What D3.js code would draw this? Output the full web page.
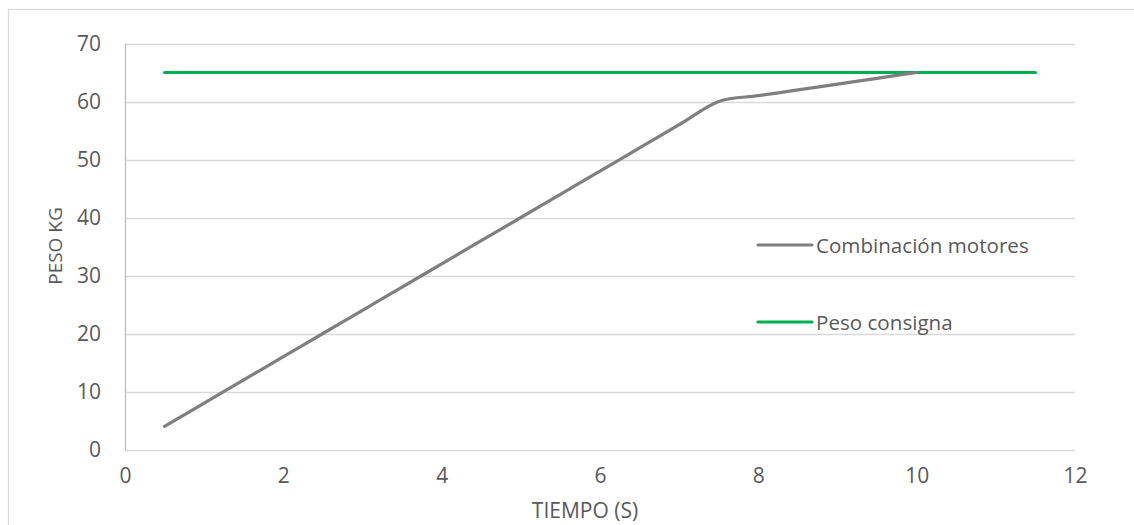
<!DOCTYPE html>
<html><head><meta charset="utf-8">
<script src="https://cdn.jsdelivr.net/npm/d3@7"></script>
<style>body{margin:0;background:#fff;} svg{display:block;font-family:"Open Sans",sans-serif;}</style>
</head><body>
<script>
const timeValues = [0.5,1,1.5,2,2.5,3,3.5,4,4.5,5,5.5,6,6.5,7,7.5,8,8.5,9,9.5,10];
const motorValues = [4,8,12,16,20,24,28,32,36,40,44,48,52,56,60,61,62,63,64,65];
const setpointTimes = [0.5,11.5];
const setpointValues = [65,65];
const xTicks = [0,2,4,6,8,10,12];
const yTicks = [0,10,20,30,40,50,60,70];
const seriesNames = ["Combinación motores","Peso consigna"];
const seriesColors = ["#7f7f7f","#00b050"];

(function(){
const W=1134,H=525;
const svg=d3.select("body").append("svg").attr("width",W).attr("height",H);
svg.append("rect").attr("x",8.5).attr("y",9.5).attr("width",1140).attr("height",540)
  .attr("fill","#fff").attr("stroke","#d9d9d9").attr("stroke-width",1.3);

const pl=125,pr=1075,pt=43.5,pb=449.5;
const x=d3.scaleLinear().domain([0,12]).range([pl,pr]);
const y=d3.scaleLinear().domain([0,70]).range([pb,pt]);

svg.append("g").selectAll("line").data(yTicks).join("line")
  .attr("x1",pl).attr("x2",pr).attr("y1",d=>Math.round(y(d))+0.5).attr("y2",d=>Math.round(y(d))+0.5)
  .attr("stroke","#d9d9d9").attr("stroke-width",1.3);
svg.append("line").attr("x1",pl+0.5).attr("x2",pl+0.5).attr("y1",pt).attr("y2",pb+1)
  .attr("stroke","#bfbfbf").attr("stroke-width",1.3);

const yAxis=d3.axisLeft(y).tickValues(yTicks).tickSize(0).tickPadding(24);
const gy=svg.append("g").attr("transform",`translate(${pl},0)`).call(yAxis);
gy.select(".domain").remove();
gy.selectAll("text").attr("fill","#595959").style("font-size","21px").style("font-family","Open Sans");

const xAxis=d3.axisBottom(x).tickValues(xTicks).tickSize(0).tickPadding(19);
const gx=svg.append("g").attr("transform",`translate(0,${pb})`).call(xAxis);
gx.select(".domain").remove();
gx.selectAll("text").attr("fill","#595959").style("font-size","21px").style("font-family","Open Sans");

svg.append("text").attr("x",585).attr("y",518).attr("text-anchor","middle")
  .attr("fill","#595959").style("font-size","21px").text("TIEMPO (S)");
svg.append("text").attr("transform",`translate(62,246) rotate(-90)`).attr("text-anchor","middle")
  .attr("fill","#595959").style("font-size","19px").text("PESO KG");

const line=d3.line().x(d=>x(d[0])).y(d=>y(d[1])).curve(d3.curveCatmullRom.alpha(0));
svg.append("path").datum(setpointTimes.map((t,i)=>[t,setpointValues[i]]))
  .attr("d",line).attr("fill","none").attr("stroke",seriesColors[1]).attr("stroke-width",3.2).attr("stroke-linecap","round");
svg.append("path").datum(timeValues.map((t,i)=>[t,motorValues[i]]))
  .attr("d",line).attr("fill","none").attr("stroke",seriesColors[0]).attr("stroke-width",3.2).attr("stroke-linecap","round");

const legY=[245,322];
seriesNames.forEach((n,i)=>{
  svg.append("line").attr("x1",758).attr("x2",812).attr("y1",legY[i]).attr("y2",legY[i])
    .attr("stroke",seriesColors[i]).attr("stroke-width",3.2).attr("stroke-linecap","round");
  svg.append("text").attr("x",816).attr("y",legY[i]+8).attr("fill","#595959")
    .style("font-size","20.6px").text(n);
});
})();
</script>
</body></html>
